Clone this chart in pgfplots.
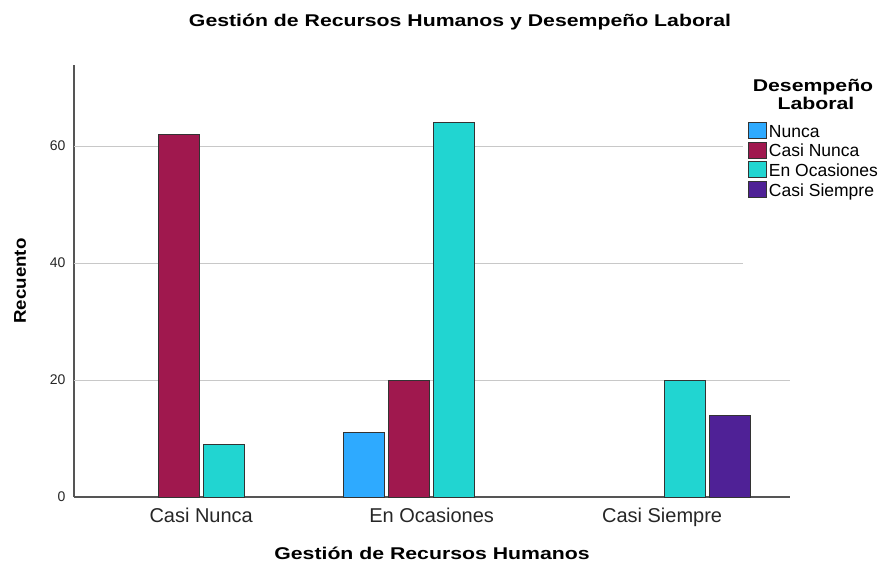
\documentclass[border=0pt]{standalone}
\usepackage{fontspec}
\setmainfont{Liberation Sans}
\usepackage{graphicx}
\usepackage{pgfplots}
\pgfplotsset{compat=1.18}
\definecolor{cNunca}{RGB}{46,170,255}
\definecolor{cCasiNunca}{RGB}{160,24,78}
\definecolor{cEnOc}{RGB}{33,213,209}
\definecolor{cCasiSiempre}{RGB}{79,33,150}
\definecolor{axgray}{RGB}{85,85,85}
\definecolor{gridgray}{RGB}{200,200,200}
\newcommand{\bstretch}[1]{\scalebox{1.25}[1]{\bfseries #1}}
\begin{document}
\begin{tikzpicture}[x=1pt,y=1pt]
\path[use as bounding box] (0,0) rectangle (880,562);
\begin{axis}[
  at={(74pt,65pt)}, anchor=south west,
  scale only axis, width=716pt, height=432pt,
  xmin=-0.552, xmax=2.555, ymin=0, ymax=73.85,
  axis x line*=bottom, axis y line*=left,
  axis line style={axgray, line width=1.3pt},
  x axis line style={-}, y axis line style={-},
  xtick={0,1,2}, xticklabels={Casi Nunca,En Ocasiones,Casi Siempre},
  ytick={0,20,40,60},
  major tick length=0pt,
  tick style={draw=none},
  xticklabel style={font=\fontsize{20}{22}\selectfont, color=black!85, anchor=base, yshift=-25pt},
  yticklabel style={font=\fontsize{14}{16}\selectfont, color=black!85, xshift=-5pt},
  /pgf/number format/assume math mode=true,
  xlabel={\bstretch{Gestión de Recursos Humanos}},
  ylabel={\scalebox{1.1}[1]{\bfseries Recuento}},
  every axis x label/.style={at={(axis description cs:0.5,0)}, anchor=base, yshift=-62pt, font=\fontsize{17}{20}\selectfont},
  every axis y label/.style={at={(axis description cs:-0.0754,0.5)}, rotate=90, anchor=center, font=\fontsize{17}{20}\selectfont},
  ybar, bar width=41pt,
  area legend,
  legend image code/.code={\draw[#1,draw=black!80,line width=0.8pt] (0pt,-6pt) rectangle (18pt,10pt);},
  legend style={at={(rel axis cs:0.9413,0.868)}, anchor=north west, draw=none, fill=none,
    font=\fontsize{17.5}{19}\selectfont, inner sep=0pt, row sep=0.9pt,
    nodes={inner sep=0pt, text height=13pt, text depth=3.5pt},
    /tikz/every odd column/.append style={column sep=2pt}},
  legend cell align=left,
  clip=false,
]
\draw[gridgray, line width=0.9pt] (axis cs:-0.552,20) -- (axis cs:2.555,20);
\draw[gridgray, line width=0.9pt] (axis cs:-0.552,40) -- (axis cs:2.351,40);
\draw[gridgray, line width=0.9pt] (axis cs:-0.552,60) -- (axis cs:2.351,60);
\addplot[fill=cNunca, draw=black!80, line width=0.9pt, bar shift=-67.5pt] coordinates {(1,11)};
\addplot[fill=cCasiNunca, draw=black!80, line width=0.9pt, bar shift=-22.5pt] coordinates {(0,62) (1,20)};
\addplot[fill=cEnOc, draw=black!80, line width=0.9pt, bar shift=22.5pt] coordinates {(0,9) (1,64) (2,20)};
\addplot[fill=cCasiSiempre, draw=black!80, line width=0.9pt, bar shift=67.5pt] coordinates {(2,14)};
\legend{Nunca,Casi Nunca,En Ocasiones,Casi Siempre}
\end{axis}
\node[font=\fontsize{17}{20}\selectfont, anchor=base] at (460,535) {\bstretch{Gestión de Recursos Humanos y Desempeño Laboral}};
\node[font=\fontsize{17}{20}\selectfont, anchor=base] at (813,470) {\bstretch{Desempeño}};
\node[font=\fontsize{17}{20}\selectfont, anchor=base] at (816,452) {\bstretch{Laboral}};
\end{tikzpicture}
\end{document}
